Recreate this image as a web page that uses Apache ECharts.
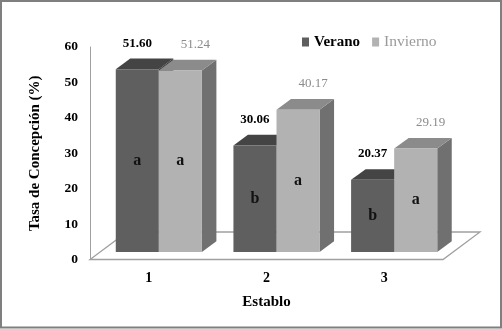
<!DOCTYPE html>
<html>
<head>
<meta charset="utf-8">
<style>
  html, body { margin: 0; padding: 0; background: #fff; }
  #chart { width: 502px; height: 329px; }
</style>
<script src="https://cdn.jsdelivr.net/npm/echarts@6/dist/echarts.min.js"></script>
</head>
<body>
<div id="chart"></div>
<script>
// Conception rate per stable and season
const establos = ['1', '2', '3'];
const verano = [51.60, 30.06, 20.37];
const invierno = [51.24, 40.17, 29.19];
const letrasVerano = ['a', 'b', 'b'];
const letrasInvierno = ['a', 'a', 'a'];
const yTicks = { min: 0, max: 60, interval: 10 };

const FONT = '"Liberation Serif", "DejaVu Serif", serif';

// pseudo-3D geometry (pixels)
const FLOOR_DEPTH = [37, -27.5];   // floor back edge offset
const BAR_FRONT = [10, -7.5];      // bar front plane offset from floor front
const BAR_DEPTH = [14.5, -10.7];   // bar depth
const BAR_FRAC = 0.366;            // bar width as fraction of category band

function barRenderer(side, colors, letters, labelStyle, labelDx) {
  return function (params, api) {
    const cat = api.value(0);
    const val = api.value(1);
    const base = api.coord([cat, 0]);
    const top = api.coord([cat, val]);
    const band = api.size([1, 0])[0];
    const w = band * BAR_FRAC;
    const x0 = (side < 0 ? base[0] - w : base[0]) + BAR_FRONT[0];
    const x1 = x0 + w;
    const by = base[1] + BAR_FRONT[1];
    const ty = top[1] + BAR_FRONT[1];
    const dx = BAR_DEPTH[0], dy = BAR_DEPTH[1];
    return {
      type: 'group',
      children: [
        { type: 'polygon', shape: { points: [[x1, ty], [x1 + dx, ty + dy], [x1 + dx, by + dy], [x1, by]] },
          style: { fill: colors.side } },
        { type: 'polygon', shape: { points: [[x0, ty], [x1, ty], [x1 + dx, ty + dy], [x0 + dx, ty + dy]] },
          style: { fill: colors.top } },
        { type: 'rect', shape: { x: x0, y: ty, width: w, height: by - ty },
          style: { fill: colors.front } },
        { type: 'text', z2: 10,
          style: { text: letters[params.dataIndex], x: (x0 + x1) / 2, y: (ty + by) / 2,
                   align: 'center', verticalAlign: 'middle',
                   font: 'bold 16px ' + FONT, fill: '#111' } },
        { type: 'text', z2: 10,
          style: Object.assign({ text: val.toFixed(2), x: (x0 + x1) / 2 + labelDx, y: ty - 26,
                   align: 'center', verticalAlign: 'middle' }, labelStyle) }
      ]
    };
  };
}

const chart = echarts.init(document.getElementById('chart'), null, { renderer: 'canvas' });

chart.setOption({
  animation: false,
  backgroundColor: '#fff',
  graphic: [{
    type: 'rect', silent: true, z: 100,
    shape: { x: 1, y: 1, width: 500, height: 326.5 },
    style: { fill: 'none', stroke: '#7f7f7f', lineWidth: 2 }
  }],
  legend: {
    left: 297, top: 29,
    itemWidth: 7, itemHeight: 9, itemGap: 12,
    icon: 'rect',
    data: [
      { name: 'Verano', textStyle: { fontFamily: FONT, fontWeight: 'bold', fontSize: 15, color: '#000' } },
      { name: 'Invierno', textStyle: { fontFamily: FONT, fontWeight: 'normal', fontSize: 15.5, color: '#9a9a9a' } }
    ]
  },
  grid: { left: 90, right: 59, top: 47, bottom: 69.5 },
  xAxis: {
    type: 'category',
    data: establos,
    axisLine: { show: false },
    axisTick: { show: false },
    axisLabel: { margin: 12, fontFamily: FONT, fontWeight: 'bold', fontSize: 14, color: '#000' },
    name: 'Establo',
    nameLocation: 'middle',
    nameGap: 35,
    nameTextStyle: { fontFamily: FONT, fontWeight: 'bold', fontSize: 15, color: '#000' }
  },
  yAxis: {
    type: 'value',
    min: yTicks.min, max: yTicks.max, interval: yTicks.interval,
    axisLine: { show: true, lineStyle: { color: '#a0a0a0', width: 1 } },
    axisTick: { show: false },
    splitLine: { show: false },
    axisLabel: { margin: 12, fontFamily: FONT, fontWeight: 'bold', fontSize: 13.5, color: '#000' },
    name: 'Tasa de Concepción (%)',
    nameLocation: 'middle',
    nameRotate: 90,
    nameGap: 47,
    nameTextStyle: { fontFamily: FONT, fontWeight: 'bold', fontSize: 15, color: '#000' }
  },
  series: [
    {
      // floor of the 3D plot area
      type: 'custom',
      silent: true,
      data: [[0, 0]],
      clip: false,
      renderItem: function (params, api) {
        const cs = params.coordSys;
        const fy = cs.y + cs.height;
        const fx0 = cs.x, fx1 = cs.x + cs.width;
        const dx = FLOOR_DEPTH[0], dy = FLOOR_DEPTH[1];
        return {
          type: 'polygon',
          shape: { points: [[fx0, fy], [fx1, fy], [fx1 + dx, fy + dy], [fx0 + dx, fy + dy]] },
          style: { fill: '#fff', stroke: '#a0a0a0', lineWidth: 1.3 }
        };
      }
    },
    {
      name: 'Verano',
      type: 'custom',
      clip: false,
      itemStyle: { color: '#5f5f5f' },
      data: verano.map((v, i) => [i, v]),
      renderItem: barRenderer(-1, { front: '#5f5f5f', top: '#444444', side: '#3c3c3c' }, letrasVerano,
        { font: 'bold 13px ' + FONT, fill: '#000' }, 0)
    },
    {
      name: 'Invierno',
      type: 'custom',
      clip: false,
      itemStyle: { color: '#b2b2b2' },
      data: invierno.map((v, i) => [i, v]),
      renderItem: barRenderer(1, { front: '#b2b2b2', top: '#8b8b8b', side: '#707070' }, letrasInvierno,
        { font: '13px ' + FONT, fill: '#8c8c8c' }, 15)
    }
  ]
});
</script>
</body>
</html>
